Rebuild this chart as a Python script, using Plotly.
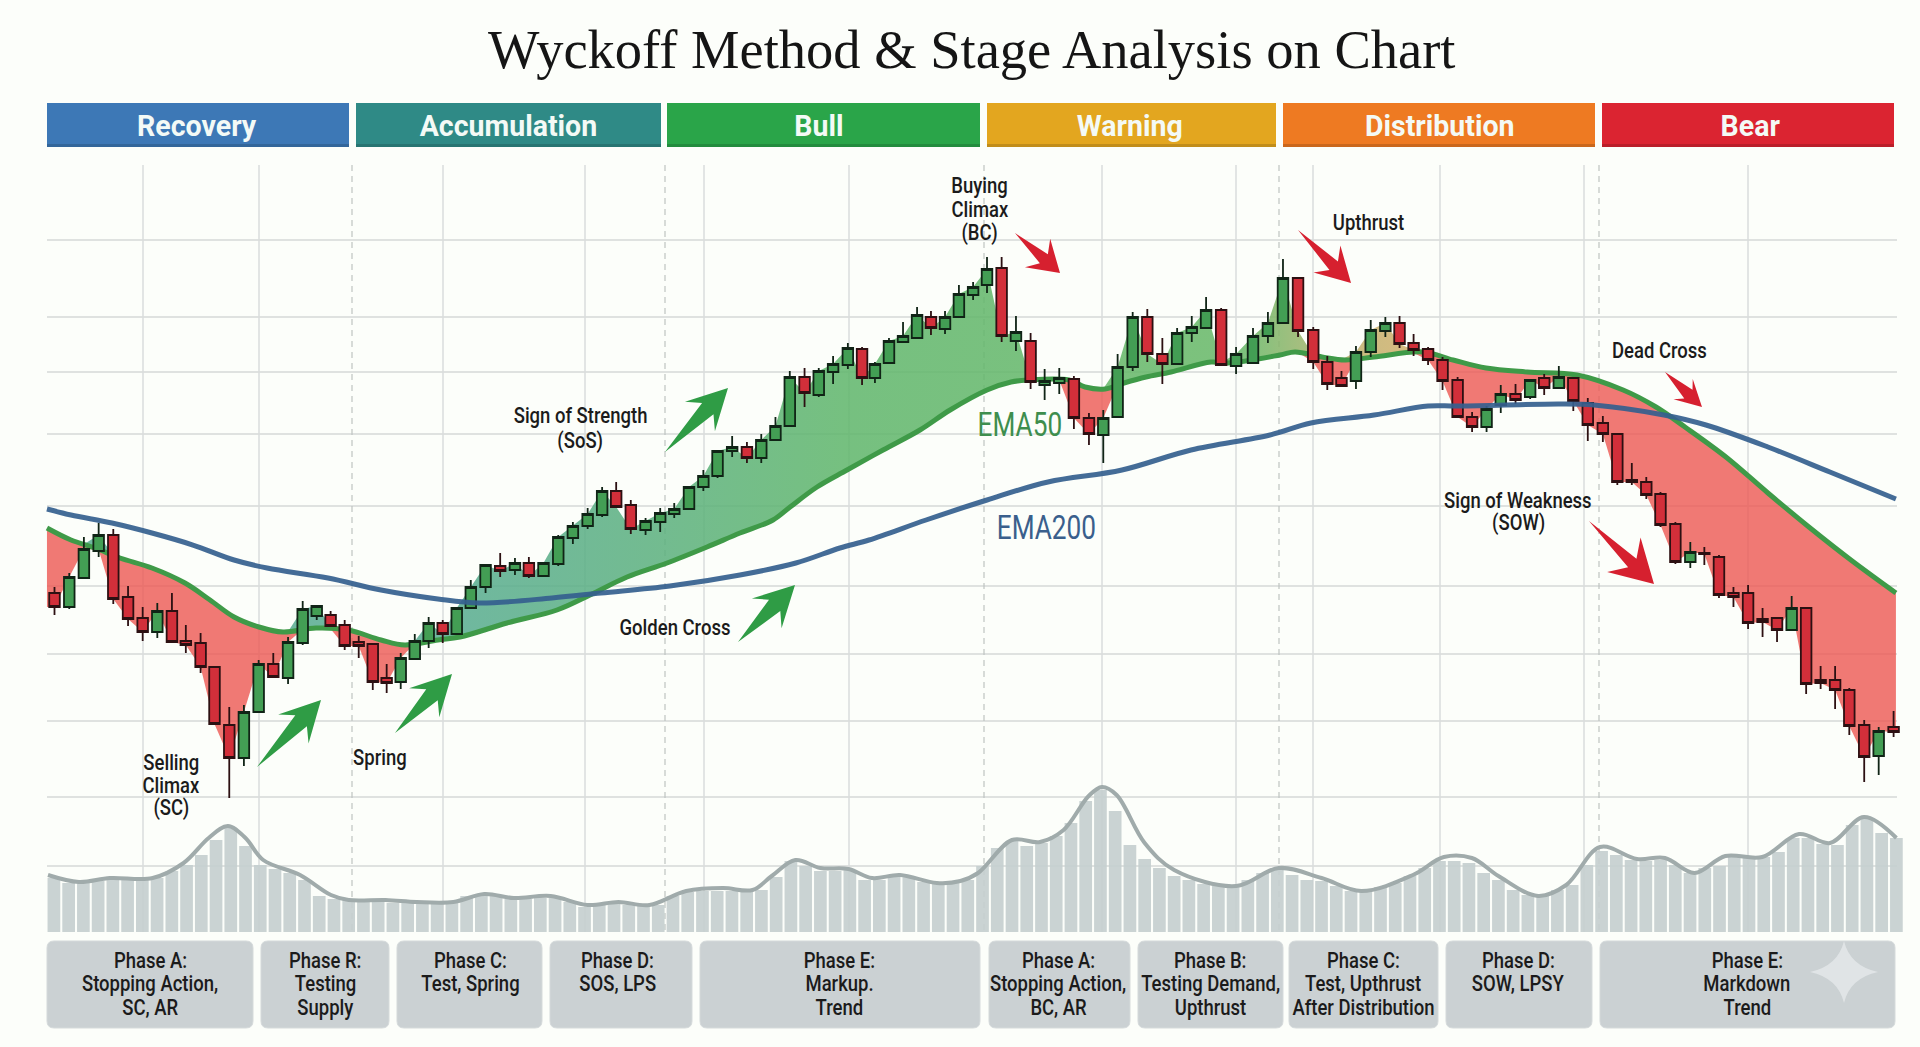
import numpy as np
import plotly.graph_objects as go

W, H = 1920, 1047

# ---- data -------------------------------------------------------------
candle_day = [0,1.02,2.03,3.05,4.06,5.08,6.09,7.10,8.11,9.07,10.09,11.05,12.07,13.08,14.10,15.11,16.13,17.14,
              18.11,19.07,20.04,21.01,21.98,22.94,23.91,24.88,25.84,26.81,27.78,28.75,29.77,30.78,31.80,32.76,
              33.77,34.79,35.80,36.82,37.82,38.79,39.80,40.82,41.83,42.80,43.82,44.81,45.79,46.80,47.82,48.81,
              49.79,50.78,51.80,52.78,53.77,54.79,55.77,56.66,57.63,58.60,59.57,60.53,61.50,62.46,63.44,64.40,
              65.41,66.40,67.41,68.38,69.39,70.40,71.44,72.43,73.42,74.46,75.47,76.51,77.53,78.54,79.53,80.57,
              81.60,82.77,83.80,84.84,85.88,86.93,87.90,88.88,89.88,90.90,91.91,92.89,93.86,94.86,95.86,96.90,
              97.90,98.90,99.88,100.90,101.91,102.88,103.89,104.89,105.89,106.93,107.93,108.93,109.93,110.91,
              111.94,112.97,113.94,114.95,115.95,116.96,117.96,118.96,119.97,120.97,121.97,122.97,123.95,124.98,
              125.98,127.01]
open_ = [454,440,469,496,512,450,429,415,436,406,404,380,322,289,335,383,369,404,431,432,
         422,405,403,369,365,388,406,424,413,439,460,481,477,484,471,483,509,521,532,556,
         542,517,525,533,538,560,571,596,600,589,607,621,670,652,675,682,698,669,684,705,
         709,730,718,730,752,762,779,706,706,662,664,668,629,612,630,680,730,693,683,714,
         719,737,681,684,711,724,769,717,685,669,666,695,716,724,704,698,687,667,630,620,
         642,653,650,669,659,669,644,624,613,567,565,553,523,485,494,490,454,454,428,429,
         417,439,367,367,357,322,291,320]
high_ = [460,474,510,524,518,461,440,444,454,422,414,380,340,342,387,394,410,446,441,436,
         427,411,403,383,394,413,430,427,440,467,482,494,489,490,484,512,525,539,560,565,
         547,529,539,544,560,577,596,611,605,613,630,676,679,679,691,704,700,685,709,725,
         740,736,736,762,765,790,790,731,714,678,679,671,634,637,693,735,738,709,719,731,
         750,739,700,719,735,788,769,720,691,676,701,727,730,731,713,700,690,670,635,641,
         662,663,667,673,681,669,649,631,613,584,570,555,525,505,500,492,460,462,439,430,
         451,439,381,381,359,327,320,336]
low_  = [432,438,468,490,443,421,406,409,405,394,374,323,249,281,335,370,363,402,427,420,
         397,389,357,354,358,387,399,404,412,438,454,470,472,469,470,481,503,518,530,539,
         513,512,515,529,538,556,569,590,584,584,607,621,640,650,663,678,662,664,684,704,
         709,712,713,730,747,754,705,696,658,647,653,618,602,584,630,676,685,663,683,705,
         719,682,673,684,704,724,710,678,657,660,658,690,710,699,691,682,657,629,615,615,
         634,643,648,652,659,636,606,605,562,562,548,520,483,479,482,449,440,418,410,405,
         416,353,358,338,312,265,272,310]
close_ = [440,470,498,512,448,428,415,436,405,402,380,323,289,335,383,370,405,438,441,421,
          401,401,365,364,389,406,424,413,439,460,482,476,484,471,484,510,521,533,556,540,
          518,526,534,538,560,571,596,600,589,607,621,670,654,676,683,699,669,683,706,711,
          732,719,730,753,760,778,711,715,665,666,669,629,613,629,680,730,693,683,714,720,
          737,682,693,711,724,769,716,685,663,661,695,717,724,703,697,687,666,630,620,638,
          653,647,667,659,670,646,622,613,565,565,552,522,485,495,493,452,450,424,425,417,
          439,363,364,357,321,290,316,315]

ema50_day = [-0.52,1.14,2.8,4.52,6.73,9.01,10.74,12.4,14.12,15.78,18.06,20.27,22.55,24.2,26.48,
             28,31.25,34.7,36.98,39.54,42.3,45.06,47.34,49.62,50.8,52.66,54.73,57.22,59.77,61.85,64.4,
             66.06,67.23,70.06,71.17,72.55,73.86,75.38,77.11,79.87,81.04,84.64,85.67,87.54,
             89.13,91.13,94.51,96.59,98.86,101.7,105.15,108.33,110.6,112.6,115.43,118.33,
             121.16,124.06,127.17]
ema50_val = [519,507,499,489,479,464,447,430,420,415,419,417,407,402,407,
             410,424,437,452,470,484,500,514,527,540,560,577,597,617,637,657,
             665,667,667,660,658,664,670,675,685,684,692,
             695,690,687,690,695,687,679,675,672,657,640,620,590,554,520,487,454]
ema200_day = [-0.52,1.14,3.97,6.73,9.56,12.4,14.68,18.89,22.55,26.48,29.32,34.36,37.74,42.5,47.34,
              51.2,54.24,56.25,60.19,64.4,68.61,73.72,78.49,83.94,86.77,91.13,94.86,96.86,103.97,
              106.32,111.15,114.05,118.33,122.61,127.17]
ema200_val = [538,532,524,514,502,487,479,469,457,448,444,449,454,461,472,484,499,507,527,547,565,577,
              597,612,624,632,641,641,643,642,632,622,600,575,548]

volume = [54,49,49,51,53,53,53,54,61,67,77,92,104,86,67,63,59,52,36,33,32,32,32,29,29,29,29,
          30,36,38,36,33,33,34,34,30,25,27,28,27,26,27,36,40,41,41,41,40,42,55,71,66,61,61,62,
          52,52,56,55,50,48,49,52,66,84,91,86,89,96,109,131,142,121,87,73,64,56,52,48,46,46,
          52,59,62,57,52,51,46,41,40,45,49,56,64,71,71,69,59,52,42,37,36,42,47,67,81,77,72,71,
          72,67,59,64,66,76,75,75,80,94,94,88,87,107,113,99,94]
vol_line_day = [-0.4,1.7,3.8,6.7,8.8,10.5,11.8,13,14.2,16.7,18.8,20,22.5,24.6,27.1,29.2,31.2,
                33.7,36.2,38.3,40.4,42.9,45.4,47.4,48.7,50.3,52,53.9,55.5,57.4,59.9,61.5,62.7,
                65,66.9,68.5,70.2,71.1,72.1,74,76,80.2,83.1,86,88.7,92.2,94.3,96.2,98,100.7,
                102.6,104.9,107.4,109.3,111.3,113.4,115.9,118.4,120.5,122.8,125]
vol_line_val = [57,50,54,54,69,94,106,94,72,57,37,32,32,30,30,38,34,36,27,30,27,41,44,42,56,72,
                64,63,54,57,49,51,59,92,90,102,136,145,137,89,62,46,64,54,41,57,75,74,56,36,47,
                85,73,74,59,76,75,98,89,115,94]

stage_names = ["Recovery", "Accumulation", "Bull", "Warning", "Distribution", "Bear"]
stage_colors = ["#3D78B6", "#2F8A86", "#2AA549", "#E3A61F", "#EE7A22", "#DB2431"]
phase_titles = ["Phase A:", "Phase R:", "Phase C:", "Phase D:", "Phase E:",
                "Phase A:", "Phase B:", "Phase C:", "Phase D:", "Phase E:"]
phase_lines = [["Stopping Action,", "SC, AR"], ["Testing", "Supply"], ["Test, Spring"], ["SOS, LPS"],
               ["Markup.", "Trend"], ["Stopping Action,", "BC, AR"], ["Testing Demand,", "Upthrust"],
               ["Test, Upthrust", "After Distribution"], ["SOW, LPSY"], ["Markdown", "Trend"]]

# ---- layout helpers (pixel placement of decoration) --------------------
def fx(x): return x / W
def fy(y): return 1 - y / H

days = np.array(candle_day, float)
closes = np.array(close_, float)
fill_days = np.r_[-0.52, days, 127.17]
ema_at = np.interp(fill_days, ema50_day, ema50_val)
fill_close = np.r_[closes[0], closes, closes[-1]]
red_edge = np.minimum(fill_close, ema_at)
green_edge = np.maximum(fill_close, ema_at)

XR = [-54.5 / 14.48, (W - 54.5) / 14.48]
YR = [0, H]
XV = [-53.9 / 14.74, (W - 53.9) / 14.74]
YV = [-(H - 932), 932]

fig = go.Figure()

# base subplot: fills and EMA50
fig.add_trace(go.Scatter(x=fill_days, y=ema_at, mode="lines", line=dict(width=0), hoverinfo="skip", showlegend=False))
fig.add_trace(go.Scatter(x=fill_days, y=red_edge, mode="lines", line=dict(width=0), fill="tonexty",
                         fillcolor="rgba(236,88,82,0.80)", hoverinfo="skip", showlegend=False))
fig.add_trace(go.Scatter(x=fill_days, y=ema_at, mode="lines", line=dict(width=0), hoverinfo="skip", showlegend=False))
fig.add_trace(go.Scatter(x=fill_days, y=green_edge, mode="lines", line=dict(width=0), fill="tonexty",
                         fillgradient=dict(type="horizontal", start=27, stop=96,
                                           colorscale=[[0, "rgba(88,172,145,0.86)"], [0.2, "rgba(92,176,128,0.86)"],
                                                       [0.4, "rgba(96,182,108,0.86)"], [0.8, "rgba(104,184,104,0.86)"],
                                                       [0.9, "rgba(190,178,112,0.88)"], [1, "rgba(220,178,112,0.88)"]]),
                         hoverinfo="skip", showlegend=False))
fig.add_trace(go.Scatter(x=ema50_day, y=ema50_val, mode="lines", line=dict(color="#3F9A48", width=5, shape="spline"),
                         name="EMA50", showlegend=False))

# candles
fig.add_trace(go.Candlestick(x=days, open=open_, high=high_, low=low_, close=close_,
                             increasing=dict(fillcolor="#439E54", line=dict(color="#102416", width=1.8)),
                             decreasing=dict(fillcolor="#D22F3A", line=dict(color="#2C1012", width=1.8)),
                             whiskerwidth=0, xaxis="x2", yaxis="y2", showlegend=False))

# EMA200 above candles
fig.add_trace(go.Scatter(x=ema200_day, y=ema200_val, mode="lines",
                         line=dict(color="#35608F", width=5, shape="spline"), opacity=0.92,
                         xaxis="x3", yaxis="y3", name="EMA200", showlegend=False))

# volume
fig.add_trace(go.Bar(x=np.arange(len(volume)), y=volume, marker=dict(color="#C6D0D0", line=dict(width=0)), opacity=0.92,
                     xaxis="x4", yaxis="y4", showlegend=False))
fig.add_trace(go.Scatter(x=vol_line_day, y=vol_line_val, mode="lines",
                         line=dict(color="#A0ABAB", width=4, shape="spline"),
                         xaxis="x4", yaxis="y4", showlegend=False))

shapes = []
# grid
for y in [240, 317, 372, 434, 506, 586, 654, 721, 797, 866]:
    shapes.append(dict(type="line", xref="paper", yref="paper", x0=fx(47), x1=fx(1897), y0=fy(y), y1=fy(y),
                       line=dict(color="#DFE2E0", width=2.2), layer="below"))
for x in [143, 259, 443, 585, 704, 849, 1102, 1236, 1313, 1440, 1584, 1748]:
    shapes.append(dict(type="line", xref="paper", yref="paper", x0=fx(x), x1=fx(x), y0=fy(165), y1=fy(932),
                       line=dict(color="#DADDDC", width=1.5), layer="below"))
for x in [352, 665, 984, 1279, 1599]:
    shapes.append(dict(type="line", xref="paper", yref="paper", x0=fx(x), x1=fx(x), y0=fy(165), y1=fy(932),
                       line=dict(color="#BEC3C1", width=1.2, dash="6px,5px"), layer="below"))

# stage bands
band_edges = [(47, 349), (356, 661), (667, 980), (987, 1276), (1283, 1595), (1602, 1894)]
band_center = [197, 509, 819, 1130, 1439, 1750]
annotations = []
def text(s, x, y, size, color="#1B1B1B", family="Roboto, sans-serif", weight=500):
    annotations.append(dict(text=s, xref="paper", yref="paper", x=fx(x), y=fy(y), showarrow=False,
                            xanchor="center", yanchor="middle",
                            font=dict(size=size, color=color, family=family, weight=weight)))

for (a, b), cx, c, n in zip(band_edges, band_center, stage_colors, stage_names):
    shapes.append(dict(type="rect", xref="paper", yref="paper", x0=fx(a), x1=fx(b), y0=fy(103), y1=fy(147),
                       fillcolor=c, line=dict(width=0), layer="above"))
    shapes.append(dict(type="rect", xref="paper", yref="paper", x0=fx(a), x1=fx(b), y0=fy(144), y1=fy(147),
                       fillcolor="rgba(0,0,0,0.15)", line=dict(width=0), layer="above"))
    text(n, cx, 125, 30, "#F4FAF6", weight=700)

# phase boxes
box_edges = [(47, 253), (261, 389), (397, 542), (550, 692), (700, 980),
             (989, 1130), (1138, 1283), (1289, 1438), (1446, 1592), (1600, 1895)]
box_center = [150, 325, 470, 617, 839, 1058, 1210, 1363, 1518, 1747]
def rrect(a, b, t, u, r=7):
    px = lambda v: round(fx(v), 5)
    py = lambda v: round(fy(v), 5)
    return (f"M{px(a+r)},{py(t)} L{px(b-r)},{py(t)} Q{px(b)},{py(t)} {px(b)},{py(t+r)} L{px(b)},{py(u-r)} "
            f"Q{px(b)},{py(u)} {px(b-r)},{py(u)} L{px(a+r)},{py(u)} Q{px(a)},{py(u)} {px(a)},{py(u-r)} "
            f"L{px(a)},{py(t+r)} Q{px(a)},{py(t)} {px(a+r)},{py(t)} Z")
for (a, b), cx, t, ls in zip(box_edges, box_center, phase_titles, phase_lines):
    shapes.append(dict(type="path", xref="paper", yref="paper", path=rrect(a, b, 941, 1028),
                       fillcolor="#CBD1D3", line=dict(color="#D5DADB", width=1), layer="above"))
    text(t, cx, 960, 22)
    for k, l in enumerate(ls):
        text(l, cx, 983 + 24 * k, 22)

# sparkle on last box
sx, sy = 1844, 972
def P(dx, dy): return f"{round(fx(sx+dx),5)},{round(fy(sy+dy),5)}"
shapes.append(dict(type="path", xref="paper", yref="paper", layer="above",
                   path=f"M{P(0,-31)} Q{P(6,-6)} {P(34,0)} Q{P(6,6)} {P(0,31)} Q{P(-6,6)} {P(-34,0)} Q{P(-6,-6)} {P(0,-31)} Z",
                   fillcolor="#E0E4E6", line=dict(width=0)))

# arrows
def arrow(tail, tip, color, L=40, w=21, neck=8):
    t = np.array(tail, float); p = np.array(tip, float)
    d = (p - t) / np.linalg.norm(p - t); n = np.array([-d[1], d[0]])
    b = p - d * L
    notch = p - d * (L * 0.72)
    pts = [t, notch + n * neck, b + n * w, p, b - n * w, notch - n * neck]
    path = "M" + " L".join(f"{round(fx(q[0]),5)},{round(fy(q[1]),5)}" for q in pts) + " Z"
    shapes.append(dict(type="path", xref="paper", yref="paper", path=path, fillcolor=color,
                       line=dict(width=0), layer="above"))
G_, R_ = "#2F9C45", "#D6202F"
for tl, tp in [((257, 767), (321, 700)), ((395, 733), (452, 674)), ((738, 642), (795, 585)), ((665, 452), (728, 388))]:
    arrow(tl, tp, G_)
for tl, tp, L, w in [((1015, 233), (1060, 273), 30, 19), ((1298, 230), (1351, 283), 34, 19),
                     ((1665, 372), (1702, 407), 26, 14), ((1589, 521), (1654, 584), 42, 24)]:
    arrow(tl, tp, R_, L, w, 6)

# texts
text("Wyckoff Method &amp; Stage Analysis on Chart", 972, 50, 54.5, "#151515", "Liberation Serif, Georgia, serif", 400)
for s, y in [("Selling", 762), ("Climax", 785), ("(SC)", 808)]: text(s, 171, y, 22)
text("Spring", 380, 757, 22)
text("Golden Cross", 675, 627, 22)
text("Sign of Strength", 580, 416, 22); text("(SoS)", 580, 441, 22)
for s, y in [("Buying", 186), ("Climax", 209), ("(BC)", 233)]: text(s, 980, y, 22)
text("Upthrust", 1368, 223, 22)
text("Dead Cross", 1659, 350, 22)
text("Sign of Weakness", 1518, 500, 22); text("(SOW)", 1518, 523, 22)
text("EMA50", 1020, 424, 34, "#3E8E4E", weight=400)
text("EMA200", 1046, 527, 34, "#3A5F8C", weight=400)

ax_off = dict(visible=False, showgrid=False, zeroline=False, fixedrange=True)
fig.update_layout(
    width=W, height=H, autosize=False, margin=dict(l=0, r=0, t=0, b=0),
    paper_bgcolor="#FCFEFA", plot_bgcolor="rgba(0,0,0,0)", showlegend=False,
    bargap=0.14, boxgap=0.18, boxgroupgap=0,
    xaxis=dict(range=XR, domain=[0, 1], **ax_off),
    yaxis=dict(range=YR, domain=[0, 1], **ax_off),
    xaxis2=dict(range=XR, overlaying="x", anchor="y2", rangeslider=dict(visible=False), **ax_off),
    yaxis2=dict(range=YR, overlaying="y", anchor="x2", **ax_off),
    xaxis3=dict(range=XR, overlaying="x", anchor="y3", **ax_off),
    yaxis3=dict(range=YR, overlaying="y", anchor="x3", **ax_off),
    xaxis4=dict(range=XV, overlaying="x", anchor="y4", **ax_off),
    yaxis4=dict(range=YV, overlaying="y", anchor="x4", **ax_off),
    shapes=shapes, annotations=annotations,
)
# condensed look: the labels in the picture are set in a narrow face, so real text is squeezed sideways
squeeze_js = """
document.body.style.margin='0';document.body.style.overflow='hidden';
document.querySelectorAll('text.annotation-text').forEach(function(t){
  var s=parseFloat(t.style.fontSize), r=s===22?0.84:s===30?0.95:s===34?0.77:1;
  if(r<1){t.setAttribute('textLength',(t.getComputedTextLength()*r).toFixed(1));t.setAttribute('lengthAdjust','spacingAndGlyphs');}
});
"""
fig.write_html("out.html", post_script=squeeze_js, config=dict(displayModeBar=False))
